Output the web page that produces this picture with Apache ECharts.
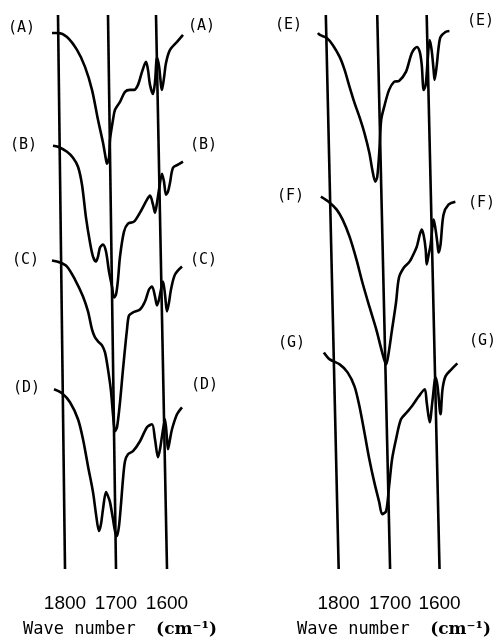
<!DOCTYPE html>
<html>
<head>
<meta charset="utf-8">
<script src="https://cdn.jsdelivr.net/npm/echarts@6/dist/echarts.min.js"></script>
<style>html,body{margin:0;padding:0;background:#fff;}#c{width:494px;height:643px;}</style>
</head>
<body>
<div id="c"></div>
<script>
// Wave number (cm-1) vs. transmittance (arbitrary, stacked) — [wavenumber, value]
const curveA = [[1812,537],[1800,537],[1782,533],[1762,520],[1746,503],[1732,480],[1720,450],[1710,427],[1704,410],[1702,406],[1698,412],[1696,430],[1690,450],[1686,460],[1676,468],[1666,478],[1656,480],[1648,480],[1640,485],[1632,498],[1624,508],[1620,500],[1616,485],[1610,476],[1606,488],[1602,512],[1598,504],[1592,480],[1588,492],[1584,507],[1576,520],[1562,528],[1550,535]];
const curveB = [[1810,424],[1800,423],[1782,418],[1770,412],[1760,403],[1752,385],[1744,352],[1736,327],[1730,313],[1724,308],[1720,313],[1716,322],[1710,325],[1704,318],[1698,298],[1692,283],[1688,272],[1684,275],[1680,290],[1676,313],[1668,338],[1660,346],[1648,348],[1636,357],[1622,370],[1616,374],[1610,365],[1606,357],[1602,367],[1598,380],[1592,396],[1588,388],[1584,375],[1580,378],[1576,387],[1570,402],[1560,405],[1550,408]];
const curveC = [[1812,309],[1796,307],[1782,303],[1766,290],[1750,273],[1740,258],[1732,240],[1726,232],[1718,227],[1712,224],[1706,217],[1700,200],[1694,178],[1690,155],[1686,138],[1682,142],[1676,167],[1670,200],[1662,240],[1658,254],[1650,257],[1636,260],[1626,268],[1618,280],[1612,283],[1606,273],[1602,264],[1598,270],[1594,280],[1590,288],[1586,275],[1582,258],[1578,267],[1574,280],[1566,295],[1552,303]];
const curveD = [[1808,180],[1792,176],[1776,167],[1760,150],[1750,130],[1740,103],[1730,77],[1724,55],[1718,38],[1714,45],[1710,60],[1704,77],[1700,73],[1696,67],[1690,50],[1686,38],[1682,33],[1678,43],[1674,65],[1670,90],[1666,108],[1660,115],[1650,118],[1636,128],[1622,142],[1612,145],[1606,130],[1600,112],[1596,120],[1592,133],[1586,150],[1582,130],[1580,120],[1576,130],[1572,140],[1562,155],[1552,162]];
const curveE = [[1816,537],[1812,535],[1798,532],[1786,525],[1772,513],[1762,500],[1752,483],[1742,467],[1732,453],[1722,437],[1712,417],[1706,400],[1700,388],[1696,393],[1692,417],[1688,450],[1682,463],[1672,480],[1662,488],[1652,489],[1638,498],[1626,517],[1616,523],[1610,518],[1606,505],[1602,480],[1598,485],[1594,510],[1590,530],[1586,520],[1582,500],[1580,490],[1576,503],[1572,522],[1568,533],[1558,538],[1550,539]];
const curveF = [[1810,373],[1792,367],[1778,360],[1766,350],[1752,333],[1738,310],[1726,287],[1712,263],[1698,240],[1686,217],[1678,205],[1674,213],[1666,240],[1658,267],[1652,292],[1642,302],[1632,307],[1626,312],[1616,323],[1610,335],[1606,340],[1602,334],[1598,320],[1596,305],[1592,315],[1588,325],[1584,345],[1582,350],[1578,340],[1574,325],[1572,317],[1568,325],[1562,355],[1552,365],[1538,368]];
const curveG = [[1804,217],[1792,210],[1772,205],[1756,197],[1742,183],[1732,163],[1722,137],[1712,110],[1702,87],[1692,67],[1686,55],[1678,58],[1672,83],[1666,110],[1658,130],[1648,150],[1636,157],[1626,163],[1612,173],[1600,180],[1596,167],[1590,147],[1584,170],[1578,192],[1574,183],[1568,155],[1564,180],[1558,193],[1546,200],[1534,206]];

// Reference lines at 1800, 1700, 1600 (the scan is slightly skewed: top / bottom wavenumber)
const guideTopLeft = [1800, 1700, 1604];
const guideBottomLeft = [1786, 1684, 1582];
const guideTopRight = [1800, 1696, 1596];
const guideBottomRight = [1774, 1670, 1570];
const tickLabels = ['1800', '1700', '1600'];
const yTop = 555;

const leftCurves = [['A', curveA], ['B', curveB], ['C', curveC], ['D', curveD]];
const rightCurves = [['E', curveE], ['F', curveF], ['G', curveG]];

const lineStyle = { color: '#000', width: 2.6 };
const series = [];
function addCurves(list, idx) {
  list.forEach(([name, data]) => {
    series.push({ name, type: 'line', xAxisIndex: idx, yAxisIndex: idx, data, smooth: 0.3,
      showSymbol: false, silent: true, lineStyle, z: 3 });
  });
}
function addGuides(tops, bottoms, idx) {
  tops.forEach((t, i) => {
    series.push({ type: 'line', xAxisIndex: idx, yAxisIndex: idx, data: [[t, yTop], [bottoms[i], 0]],
      showSymbol: false, silent: true, lineStyle: { color: '#000', width: 2.6 }, z: 2 });
  });
}
addCurves(leftCurves, 0); addCurves(rightCurves, 1);
addGuides(guideTopLeft, guideBottomLeft, 0); addGuides(guideTopRight, guideBottomRight, 1);

const nameRich = {
  a: { fontFamily: 'DejaVu Sans Mono', fontSize: 17, color: '#000' },
  b: { fontFamily: 'DejaVu Serif', fontSize: 17, fontWeight: 'bold', color: '#000' }
};
function xAxis(idx, min, max, bottoms) {
  return {
    gridIndex: idx, type: 'value', min, max, inverse: true,
    axisLine: { show: false }, axisTick: { show: false }, splitLine: { show: false },
    axisLabel: {
      customValues: bottoms, margin: 25, color: '#000',
      fontFamily: 'Liberation Sans', fontSize: 19,
      formatter: v => tickLabels[bottoms.indexOf(v)] || ''
    },
    name: '{a|Wave number  }{b|(cm\u207B\u00B9)}', nameLocation: 'middle', nameGap: 52,
    nameTextStyle: { rich: nameRich }
  };
}
function yAxis(idx) {
  return { gridIndex: idx, type: 'value', min: 0, max: yTop, show: false };
}

const labelStyle = { fontFamily: 'DejaVu Sans Mono', fontSize: 15, fill: '#000' };
const labels = [
  ['(A)', 8, 30], ['(B)', 10, 147], ['(C)', 12, 262], ['(D)', 13, 390],
  ['(A)', 188, 28], ['(B)', 190, 147], ['(C)', 190, 262], ['(D)', 191, 387],
  ['(E)', 275, 27], ['(F)', 277, 198], ['(G)', 278, 345],
  ['(E)', 467, 23], ['(F)', 468, 205], ['(G)', 469, 343]
];
const graphic = labels.map(([t, x, y]) => ({
  type: 'text', left: x, top: y - 9, silent: true,
  style: Object.assign({ text: t }, labelStyle)
}));

const chart = echarts.init(document.getElementById('c'), null, { renderer: 'canvas' });
chart.setOption({
  animation: false,
  backgroundColor: '#fff',
  grid: [
    { left: 40, width: 160, top: 15, height: yTop },
    { left: 310, width: 170, top: 15, height: yTop }
  ],
  xAxis: [xAxis(0, 1516, 1836, guideBottomLeft), xAxis(1, 1492, 1832, guideBottomRight)],
  yAxis: [yAxis(0), yAxis(1)],
  series,
  graphic
});
</script>
</body>
</html>
